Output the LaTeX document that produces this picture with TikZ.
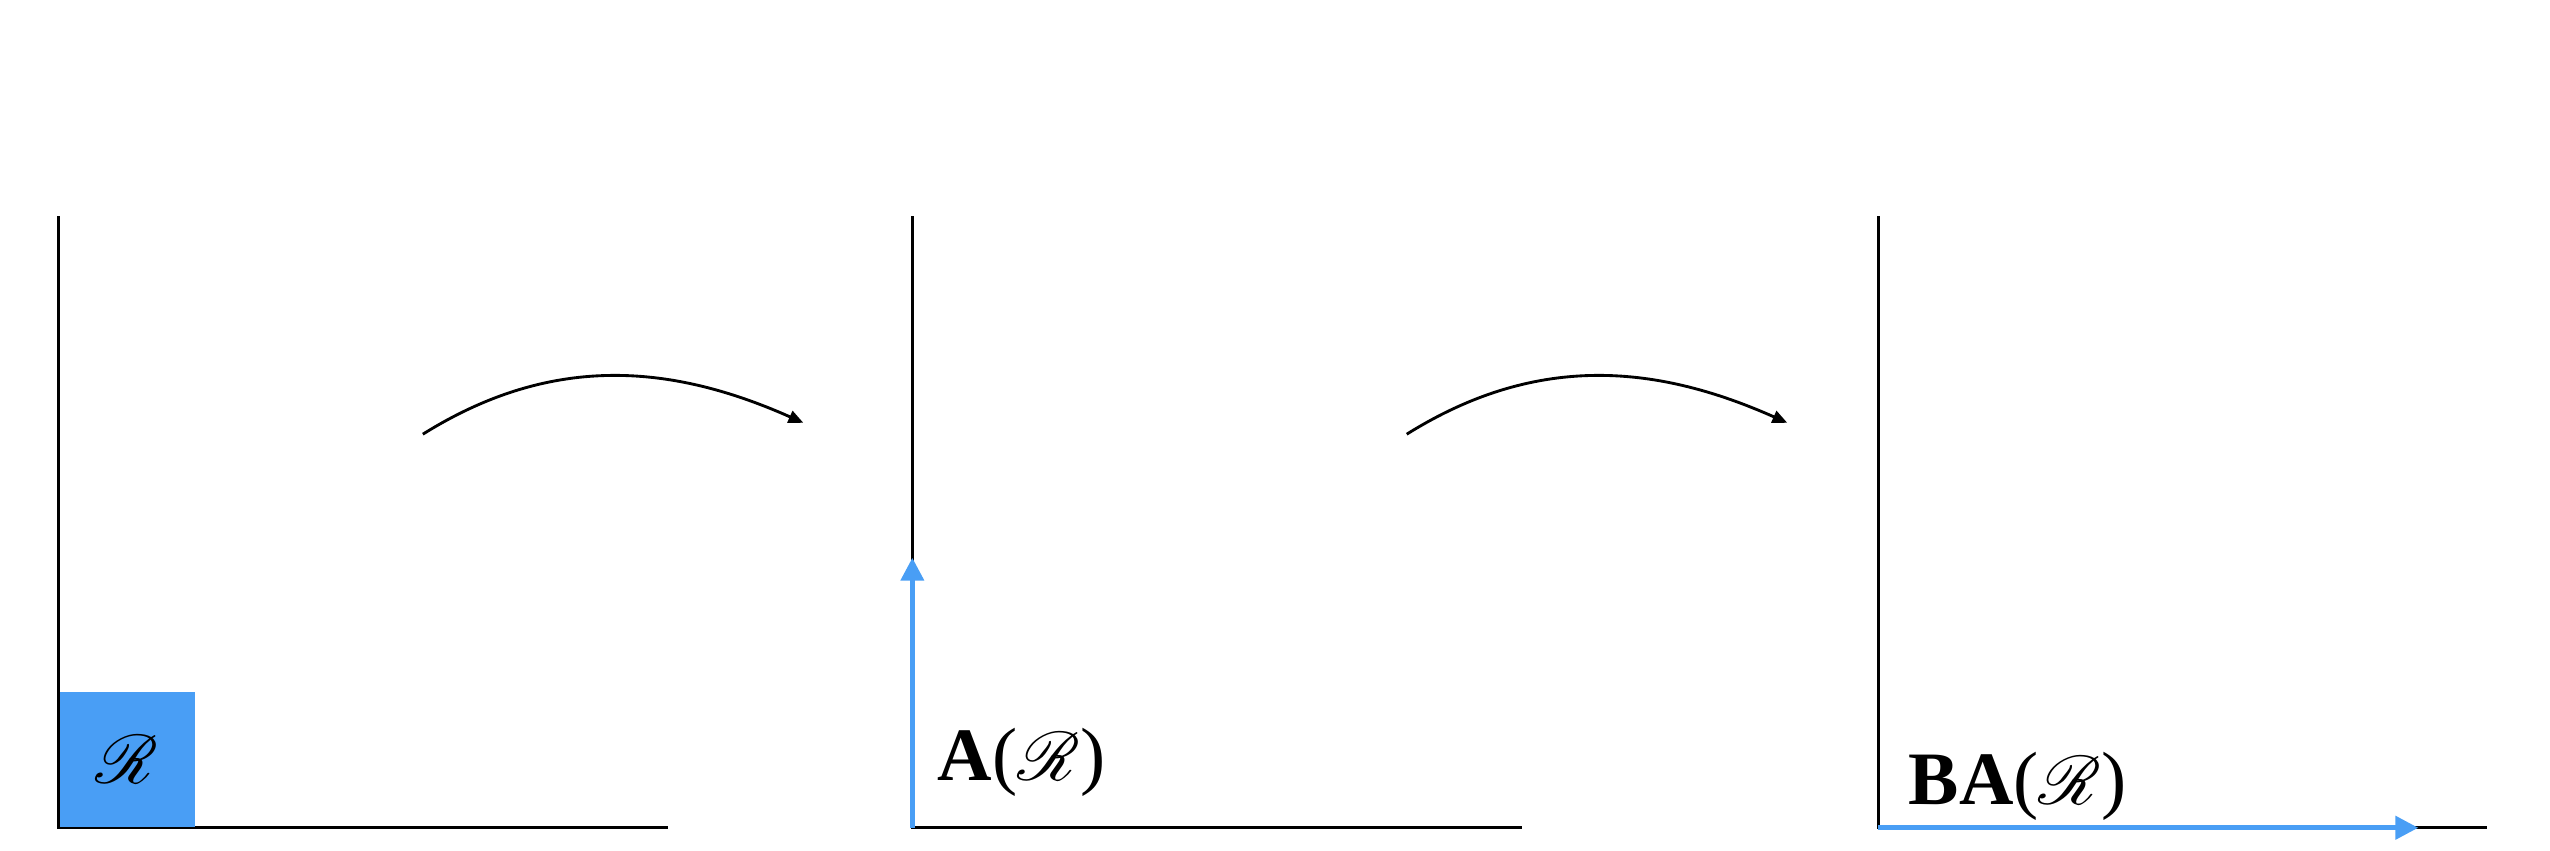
\documentclass[tikz,border=0pt]{standalone}
\usepackage{fontspec}
\setmainfont{Liberation Serif}
\usepackage{xcolor}
\usepackage{mathrsfs}
\usepackage{tikz}
\usetikzlibrary{positioning,arrows.meta}
\definecolor{regionblue}{RGB}{73,158,245}

\begin{document}
\begin{tikzpicture}[
        axis/.style={draw=black, line width=0.5pt},
        region/.style={fill=regionblue, inner sep=0pt, minimum size=0.83cm,
                       font=\fontsize{13.2}{15}\selectfont},
        image/.style={draw=regionblue, line width=0.8pt, -{Triangle[length=4pt,width=4pt]}},
        mapto/.style={draw=black, line width=0.5pt, -{Triangle[length=2.6pt,width=2.2pt]}},
        lbl/.style={inner sep=0pt, anchor=base west, font=\fontsize{13.2}{15}\selectfont}
    ]
        \useasboundingbox (0,0) rectangle (15.68,5.23);
        % origins of the three frames
        \coordinate (o1) at (0.36,0.14);
        \coordinate (o2) at (5.61,0.14);
        \coordinate (o3) at (11.55,0.14);
        % first frame: the region R
        \draw[axis] (0.36,3.90) -- (o1) -- (4.11,0.14);
        \node[region, anchor=south west] (R) at (o1) {$\mathscr{R}$};
        % first map
        \coordinate (m1s) at (2.60,2.56);
        \coordinate (m1e) at (4.94,2.63);
        \draw[mapto] (m1s) to[out=32,in=156] (m1e);
        % second frame: A(R)
        \draw[axis] (5.61,3.90) -- (o2) -- (9.36,0.14);
        \coordinate (a2) at (5.61,1.80);
        \draw[image] (o2) -- (a2);
        \node[lbl] (AR) at (5.76,0.43) {\textbf{A}($\mathscr{R}$)};
        % second map
        \coordinate (m2s) at (8.65,2.56);
        \coordinate (m2e) at (10.99,2.63);
        \draw[mapto] (m2s) to[out=32,in=156] (m2e);
        % third frame: BA(R)
        \draw[axis] (11.55,3.90) -- (o3) -- (15.29,0.14);
        \coordinate (a3) at (14.87,0.14);
        \draw[image] (o3) -- (a3);
        \node[lbl] (BAR) at (11.73,0.28) {\textbf{BA}($\mathscr{R}$)};
    \end{tikzpicture}
\end{document}
